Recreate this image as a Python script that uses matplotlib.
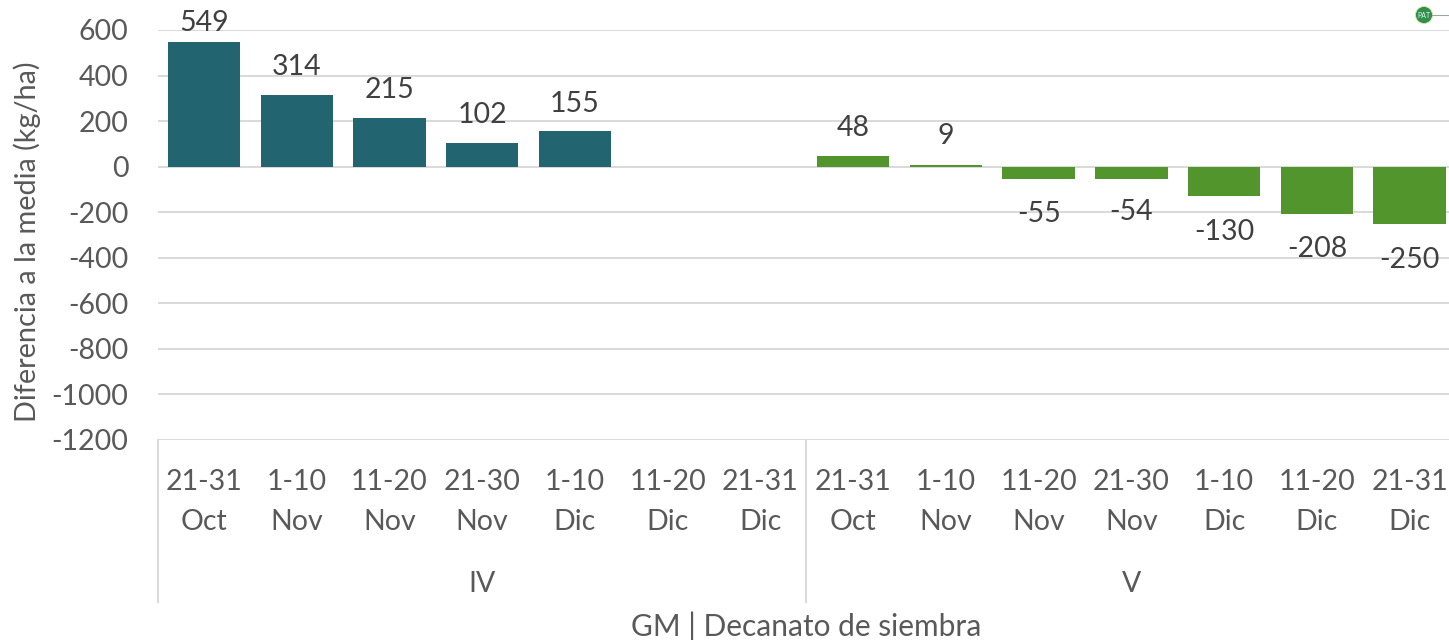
import numpy as np
import matplotlib
matplotlib.use('Agg')
import matplotlib.pyplot as plt
from matplotlib.lines import Line2D
from matplotlib.patches import Ellipse

W, H = 1449, 640

# datos
decanato = ['21-31\nOct', '1-10\nNov', '11-20\nNov', '21-30\nNov', '1-10\nDic', '11-20\nDic', '21-31\nDic']
grupos = ['IV', 'V']
valores_iv = [549, 314, 215, 102, 155, np.nan, np.nan]
valores_v = [48, 9, -55, -54, -130, -208, -250]
y_ticks = [600, 400, 200, 0, -200, -400, -600, -800, -1000, -1200]

# desplazamiento de las etiquetas respecto a la barra, en px (estilo, no datos)
off_iv = [21, 31, 30, 31, 30]
off_v = [30, 31, 32, 31, 33, 32, 34]

plt.rcParams['font.family'] = ['Lato', 'DejaVu Sans']
plt.rcParams['axes.unicode_minus'] = False
gris = '#595959'
linea = '#d9d9d9'


def fx(px):
    return px / W


def fy(px):
    return 1 - px / H


fig = plt.figure(figsize=(W / 100, H / 100), dpi=100)
# el eje sigue un poco mas alla del borde de la imagen, como en el original
ax = fig.add_axes([fx(157.6), fy(440), fx(1456 - 157.6), (440 - 30) / H])

valores = valores_iv + valores_v
x = np.arange(len(valores))
colores = ['#226570'] * 7 + ['#52952c'] * 7
ax.bar(x, valores, width=0.78, color=colores, zorder=3)

ax.set_xlim(-0.5, 13.5)
ax.set_ylim(-1200, 600)
ax.set_yticks(y_ticks)
ax.set_xticks([])
ax.tick_params(axis='y', length=0, pad=21, labelsize=20.5, labelcolor=gris)
ax.grid(True, axis='y', color=linea, lw=1.4, zorder=1)
ax.set_axisbelow(True)
for s in ['top', 'right', 'left', 'bottom']:
    ax.spines[s].set_visible(False)

# etiquetas de valor
offs = off_iv + [0, 0] + off_v
for i, v in enumerate(valores):
    if np.isnan(v):
        continue
    dy = offs[i] if v >= 0 else -offs[i]
    ax.annotate(str(v), (i, v), xytext=(0, (dy - 2.5) * 0.72), textcoords='offset points',
                ha='center', va='center', fontsize=20.5, color='#404040',
                annotation_clip=False, zorder=4)

# eje de categorias en dos niveles
for i in range(len(valores)):
    lab = decanato[i % 7].split('\n')
    for j, t in enumerate(lab):
        ax.annotate(t, (i, 0), xycoords=('data', 'axes fraction'),
                    xytext=(0, -(42.5 + 39 * j) * 0.72), textcoords='offset points',
                    ha='center', va='center', fontsize=20.5, color=gris, annotation_clip=False)
for k, g in enumerate(grupos):
    ax.annotate(g, (3 + 7 * k, 0), xycoords=('data', 'axes fraction'),
                xytext=(0, -144 * 0.72), textcoords='offset points',
                ha='center', va='center', fontsize=20.5, color=gris, annotation_clip=False)

for px in [158, 806]:
    fig.add_artist(Line2D([fx(px), fx(px)], [fy(440), fy(602)], color=linea, lw=1.4))

fig.text(fx(806), fy(626), 'GM | Decanato de siembra', ha='center', va='center', fontsize=21.5, color=gris)
fig.text(fx(27), fy(242), 'Diferencia a la media (kg/ha)', rotation=90, ha='center', va='center',
         fontsize=20.8, color=gris)

# sello PAT
fig.add_artist(Line2D([fx(1432), fx(1449)], [fy(15), fy(15)], color='#9aa5a0', lw=0.8))
fig.add_artist(Ellipse((fx(1424), fy(15)), 17 / W, 17 / H, facecolor='#2f8f4e',
                       edgecolor='#d9e89a', lw=0.6, transform=fig.transFigure))
fig.text(fx(1424), fy(15), 'PAT', ha='center', va='center', fontsize=5, color='#e8f2ea')

fig.savefig('out.png', dpi=100)
